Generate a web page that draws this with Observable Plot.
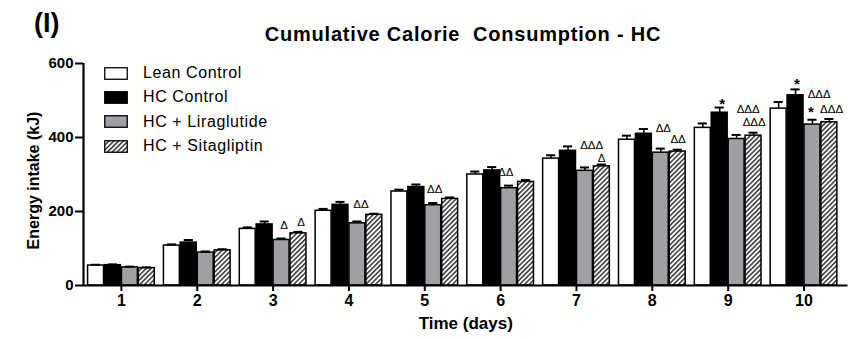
<!DOCTYPE html>
<html>
<head>
<meta charset="utf-8">
<script src="https://cdn.jsdelivr.net/npm/d3@7"></script>
<script src="https://cdn.jsdelivr.net/npm/@observablehq/plot@0.6"></script>
<style>
  html, body { margin: 0; padding: 0; background: white; overflow: hidden; }
  #wrap { position: relative; width: 864px; height: 339px; font-family: "Liberation Sans", Arial, sans-serif; color: black; }
  .ov { position: absolute; white-space: pre; line-height: 1; }
  .leg { position: absolute; left: 104px; height: 14px; display: flex; align-items: center; font-size: 16px; letter-spacing: 0.6px; white-space: pre; }
  .leg svg { margin-right: 15px; }
</style>
</head>
<body>
<div id="wrap"></div>
<script>
// ---- data ----
const days = [1, 2, 3, 4, 5, 6, 7, 8, 9, 10];
const groups = ["Lean Control", "HC Control", "HC + Liraglutide", "HC + Sitagliptin"];
const leanControl   = [54, 108, 153, 202, 254, 300, 343, 394, 426, 478];
const hcControl     = [55, 116, 165, 218, 266, 311, 364, 410, 467, 514];
const hcLiraglutide = [49, 89, 123, 168, 217, 263, 310, 359, 396, 435];
const hcSitagliptin = [47, 95, 141, 191, 234, 280, 322, 362, 405, 441];
const leanErr = [2, 3, 4, 5, 5, 8, 9, 11, 12, 18];
const hcErr   = [2, 7, 8, 8, 7, 9, 12, 13, 14, 16];
const liraErr = [2, 3, 4, 5, 6, 7, 9, 11, 11, 13];
const sitaErr = [2, 3, 4, 3, 4, 5, 5, 5, 8, 9];
const yTicks = [0, 200, 400, 600];

// significance annotations: day, horizontal offset (days), y level (kJ), label
const annDay    = [3, 3, 4, 5, 6, 7, 7, 8, 8, 9, 9, 9, 10, 10, 10, 10];
const annOffset = [0.145, 0.37, 0.158, 0.13, 0.066, 0.2, 0.33, 0.145, 0.34, -0.08, 0.264, 0.343, -0.092, 0.2, 0.092, 0.363];
const annValue  = [162, 171, 219, 259, 306, 379, 345, 424, 395, 491, 476, 441, 545, 517, 468, 476];
const annLabel  = ["Δ", "Δ", "ΔΔ", "ΔΔ", "ΔΔ", "ΔΔΔ", "Δ", "ΔΔ", "ΔΔ", "*", "ΔΔΔ", "ΔΔΔ", "*", "ΔΔΔ", "*", "ΔΔΔ"];

// ---- build tables ----
const series = [leanControl, hcControl, hcLiraglutide, hcSitagliptin];
const errs = [leanErr, hcErr, liraErr, sitaErr];
const fills = ["white", "black", "#a0a0a4", "url(#hatch)"];
const barW = 0.21, gap = 0.013, capHalf = 0.06;
const rows = [];
days.forEach((d, i) => groups.forEach((g, gi) => {
  const x1 = d + (gi - 2) * (barW + gap) + gap / 2;
  rows.push({day: d, group: g, gi, value: series[gi][i], err: errs[gi][i], x1, x2: x1 + barW, xc: x1 + barW / 2, fill: fills[gi]});
}));
const ann = annDay.map((d, i) => ({x: d + annOffset[i], y: annValue[i], label: annLabel[i]}));
const xDomain = [0.5, 10.58];

const chart = Plot.plot({
  width: 864, height: 339,
  marginLeft: 83, marginRight: 16.5, marginTop: 63, marginBottom: 54,
  style: {fontFamily: "'Liberation Sans', Arial, sans-serif", background: "white", color: "black"},
  x: {domain: xDomain, axis: null},
  y: {domain: [0, 600], axis: null},
  color: {type: "identity"},
  marks: [
    Plot.rectY(rows, {x1: "x1", x2: "x2", y1: 0, y2: "value", fill: "fill", stroke: "black", strokeWidth: 1.5}),
    Plot.ruleX(rows, {x: "xc", y1: "value", y2: d => d.value + d.err, stroke: "black", strokeWidth: 1.6}),
    Plot.ruleY(rows, {y: d => d.value + d.err, x1: d => d.xc - capHalf, x2: d => d.xc + capHalf, stroke: "black", strokeWidth: 2}),
    Plot.ruleY([0], {stroke: "black", strokeWidth: 2.2}),
    Plot.ruleX([xDomain[0]], {stroke: "black", strokeWidth: 2.2}),
    Plot.axisY({ticks: yTicks, tickSize: 8, tickPadding: 2, tickFormat: d => String(d), fontSize: 15, fontWeight: "bold", label: null, strokeWidth: 2}),
    Plot.axisX({ticks: days, tickSize: 6, tickPadding: 3, tickFormat: d => String(d), fontSize: 16, fontWeight: "bold", label: null, strokeWidth: 2}),
    Plot.text(["Time (days)"], {frameAnchor: "bottom", dy: 43, fontSize: 17, fontWeight: "bold"}),
    Plot.text(["Energy intake (kJ)"], {frameAnchor: "left", textAnchor: "middle", rotate: -90, dx: -50, dy: 6, fontSize: 16, fontWeight: "bold"}),
    Plot.text(ann.filter(a => a.label !== "*"), {x: "x", y: "y", text: "label", fontSize: 11.5, letterSpacing: 1.4}),
    Plot.text(ann.filter(a => a.label === "*"), {x: "x", y: "y", text: "label", fontSize: 15, fontWeight: "bold"})
  ]
});

const ns = "http://www.w3.org/2000/svg";
const defs = document.createElementNS(ns, "defs");
defs.innerHTML = '<pattern id="hatch" patternUnits="userSpaceOnUse" width="3.4" height="3.4" patternTransform="rotate(45)"><rect width="3.4" height="3.4" fill="white"/><line x1="0.8" y1="0" x2="0.8" y2="3.4" stroke="black" stroke-width="1.2"/></pattern>';
chart.prepend(defs);
chart.style.display = "block";

const wrap = document.getElementById("wrap");
wrap.appendChild(chart);

const title = document.createElement("div");
title.className = "ov";
title.setAttribute("style", "left:0px; width:926px; text-align:center; top:24px; font-size:20px; font-weight:bold; letter-spacing:0.8px;");
title.textContent = "Cumulative Calorie  Consumption - HC";
wrap.appendChild(title);

const panel = document.createElement("div");
panel.className = "ov";
panel.setAttribute("style", "left:34px; top:10px; font-size:27px; font-weight:bold;");
panel.textContent = "(I)";
wrap.appendChild(panel);

const legTops = [66, 90, 114.5, 139];
groups.forEach((g, gi) => {
  const row = document.createElement("div");
  row.className = "leg";
  row.style.top = legTops[gi] + "px";
  row.innerHTML = `<svg width="24" height="13"><rect x="0.75" y="0.75" width="22.5" height="11.5" fill="${fills[gi]}" stroke="black" stroke-width="1.3"/></svg><span>${g}</span>`;
  wrap.appendChild(row);
});
</script>
</body>
</html>
